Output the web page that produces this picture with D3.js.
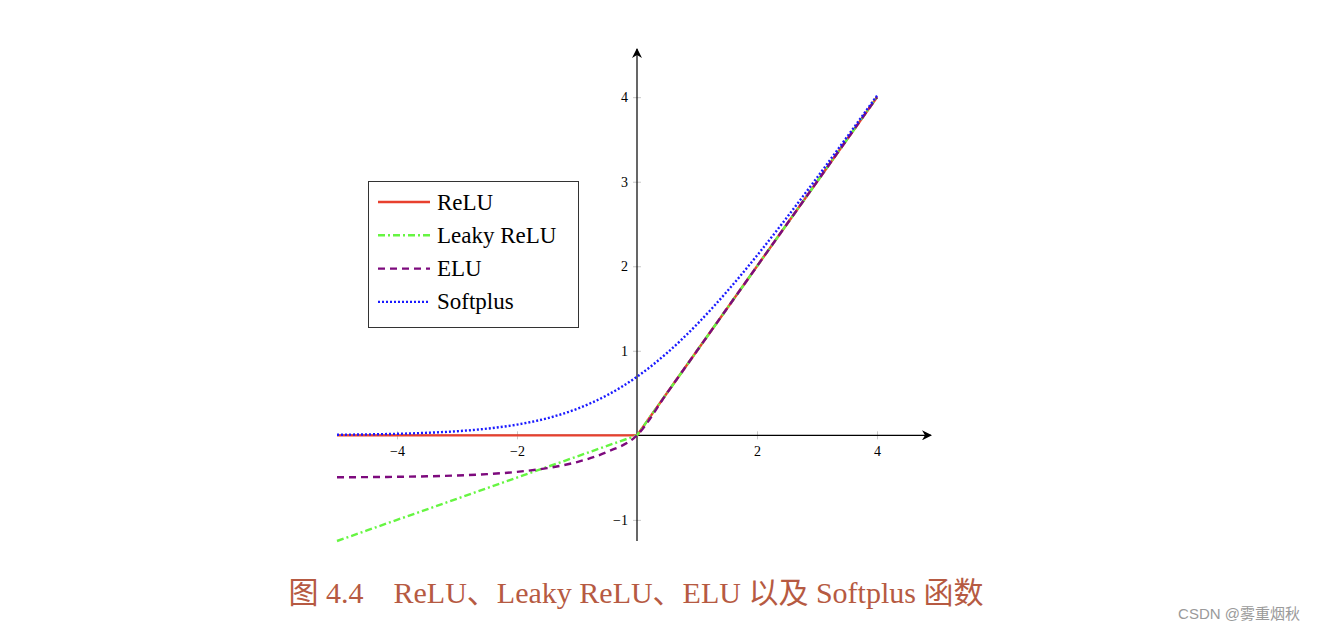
<!DOCTYPE html>
<html><head><meta charset="utf-8">
<script src="https://cdn.jsdelivr.net/npm/d3@7"></script>
<style>body{margin:0;background:#fff;}svg{display:block;}</style>
</head><body>
<svg id="c" width="1318" height="632"></svg>
<script>
const xs = [-5,-4.5,-4,-3.5,-3,-2.5,-2,-1.5,-1,-0.5,0,0.5,1,1.5,2,2.5,3,3.5,4];
const reluVals = [0,0,0,0,0,0,0,0,0,0,0,0.5,1,1.5,2,2.5,3,3.5,4];
const leakyVals = [-1.25,-1.125,-1,-0.875,-0.75,-0.625,-0.5,-0.375,-0.25,-0.125,0,0.5,1,1.5,2,2.5,3,3.5,4];
const eluVals = [-0.4966,-0.4944,-0.4908,-0.4849,-0.4751,-0.459,-0.4323,-0.3884,-0.3161,-0.1967,0,0.5,1,1.5,2,2.5,3,3.5,4];
const softplusVals = [0.0067,0.011,0.0181,0.0298,0.0486,0.0789,0.1269,0.2014,0.3133,0.4741,0.6931,0.9741,1.3133,1.7014,2.1269,2.5789,3.0486,3.5298,4.0182];
const xTicks = [-4,-2,2,4];
const yTicks = [-1,1,2,3,4];
const seriesNames = ["ReLU","Leaky ReLU","ELU","Softplus"];
const caption = "图 4.4\u2003ReLU、Leaky ReLU、ELU 以及 Softplus 函数";
const watermark = "CSDN @雾重烟秋";

const series = [
  {name: seriesNames[0], vals: reluVals, color: "#e8402e", dash: null, w: 2.4, curve: d3.curveLinear},
  {name: seriesNames[1], vals: leakyVals, color: "#66f542", dash: "7,3,2,3", w: 2.4, curve: d3.curveLinear},
  {name: seriesNames[2], vals: eluVals, color: "#7d0a7d", dash: "7,5", w: 2.4, curve: d3.curveMonotoneX},
  {name: seriesNames[3], vals: softplusVals, color: "#1a1aff", dash: "2,2", w: 2.4, curve: d3.curveMonotoneX}
];

const svg = d3.select("#c");
const x = d3.scaleLinear().domain([-5, 4.9]).range([337, 931]);
const y = d3.scaleLinear().domain([-1.25, 4.57]).range([541, 49]);

const tickFont = "'Liberation Serif', 'DejaVu Serif', serif";
const fmt = d => String(d).replace("-", "\u2212");
const gx = svg.append("g").attr("transform", `translate(0,${y(0)})`);
gx.call(d3.axisBottom(x).tickValues(xTicks).tickSize(0).tickFormat(fmt));
gx.select(".domain").remove();
gx.selectAll(".tick text").attr("dy", 0).attr("y", 21).attr("font-size", 14).attr("font-family", tickFont).attr("fill", "#000");
gx.selectAll(".tick").append("line").attr("y1", -4).attr("y2", 4).attr("stroke", "#c8c8c8").attr("stroke-width", 1);

const gy = svg.append("g").attr("transform", `translate(${x(0)},0)`);
gy.call(d3.axisLeft(y).tickValues(yTicks).tickSize(0).tickFormat(fmt));
gy.select(".domain").remove();
gy.selectAll(".tick text").attr("x", -9).attr("dy", "0.32em").attr("font-size", 14).attr("font-family", tickFont).attr("fill", "#000");
gy.selectAll(".tick").append("line").attr("x1", -4).attr("x2", 4).attr("stroke", "#c8c8c8").attr("stroke-width", 1);

const defs = svg.append("defs");
defs.append("marker").attr("id","arr").attr("viewBox","0 0 10 10").attr("refX",9).attr("refY",5)
  .attr("markerWidth",10).attr("markerHeight",10).attr("markerUnits","userSpaceOnUse").attr("orient","auto")
  .append("path").attr("d","M0,0 L10,5 L0,10 L3,5 Z").attr("fill","#000");
svg.append("line").attr("x1", x(-5)).attr("x2", x(4.9)).attr("y1", y(0)).attr("y2", y(0))
  .attr("stroke","#000").attr("stroke-width",1.2).attr("marker-end","url(#arr)");
svg.append("line").attr("x1", x(0)).attr("x2", x(0)).attr("y1", y(-1.25)).attr("y2", y(4.57))
  .attr("stroke","#000").attr("stroke-width",1.2).attr("marker-end","url(#arr)");

series.forEach(s => {
  const line = d3.line().x((d,i) => x(xs[i])).y(d => y(d)).curve(s.curve);
  svg.append("path").attr("d", line(s.vals)).attr("fill","none").attr("stroke", s.color)
    .attr("stroke-width", s.w).attr("stroke-dasharray", s.dash);
});

const lg = svg.append("g");
lg.append("rect").attr("x", 368.5).attr("y", 181.5).attr("width", 210).attr("height", 146)
  .attr("fill","#fff").attr("stroke","#333").attr("stroke-width",1);
series.forEach((s, i) => {
  const yy = 202 + i * 33.3;
  lg.append("line").attr("x1", 378).attr("x2", 430).attr("y1", yy).attr("y2", yy)
    .attr("stroke", s.color).attr("stroke-width", s.w).attr("stroke-dasharray", s.dash);
  lg.append("text").attr("x", 437).attr("y", yy).attr("dy", "0.33em").attr("font-size", 23)
    .attr("font-family", tickFont).attr("fill", "#000").text(s.name);
});

svg.append("text").attr("x", 636).attr("y", 603).attr("text-anchor", "middle")
  .attr("font-size", 30).attr("font-family", "'Liberation Serif', 'Noto Sans CJK SC', serif")
  .attr("fill", "#b65a42").text(caption);

svg.append("text").attr("x", 1300).attr("y", 619).attr("text-anchor","end")
  .attr("font-size", 15).attr("font-family", "'Liberation Sans', 'Noto Sans CJK SC', sans-serif")
  .attr("fill", "#9a9a9a").text(watermark);
</script>
</body></html>
